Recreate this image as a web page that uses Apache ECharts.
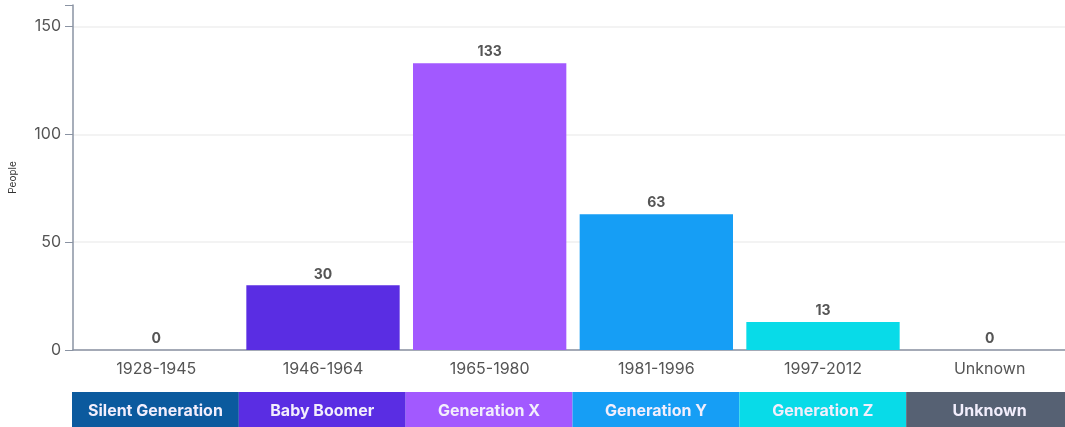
<!DOCTYPE html>
<html>
<head>
<meta charset="utf-8">
<script src="https://cdn.jsdelivr.net/npm/echarts@6/dist/echarts.min.js"></script>
<style>
  html, body { margin: 0; padding: 0; background: #fff; overflow: hidden; }
  #myChart { width: 1073px; height: 432px; }
</style>
</head>
<body>
<div id="myChart"></div>
<script>
// data
const years = ['1928-1945', '1946-1964', '1965-1980', '1981-1996', '1997-2012', 'Unknown'];
const generations = ['Silent Generation', 'Baby Boomer', 'Generation X', 'Generation Y', 'Generation Z', 'Unknown'];
const people = [0, 30, 133, 63, 13, 0];
const bandValues = [1, 1, 1, 1, 1, 1];
const barColors = ['#0b5a9e', '#5a2de3', '#a259ff', '#169ef5', '#08dbe8', '#566173'];

// the chart is a little bigger than the window, the right and bottom edges are cut off
let myChart = echarts.init(document.getElementById('myChart'));
myChart.setOption({
  animation: false,
  textStyle: { fontFamily: 'Inter, "Noto Sans", sans-serif' },
  grid: [
    { left: 72, top: 5, width: 1001, height: 345 },
    { left: 72, top: 392, width: 1001, height: 39 }
  ],
  xAxis: [{
    gridIndex: 0,
    type: 'category',
    data: years,
    axisLine: { lineStyle: { color: '#8a93a3', width: 1.5 } },
    axisTick: { alignWithLabel: true, length: 6, lineStyle: { color: '#8a93a3' } },
    axisLabel: { color: '#555', fontSize: 16, margin: 11 }
  }, {
    gridIndex: 1,
    type: 'category',
    data: generations,
    show: false
  }],
  yAxis: [{
    gridIndex: 0,
    type: 'value',
    min: 0,
    max: 160,
    interval: 50,
    name: 'People',
    nameLocation: 'middle',
    nameGap: 55,
    nameTextStyle: { fontSize: 10, color: '#333' },
    axisLine: { show: true, lineStyle: { color: '#8a93a3', width: 1.5 } },
    axisTick: { show: true, length: 8, lineStyle: { color: '#8a93a3' } },
    axisLabel: {
      color: '#555', fontSize: 16, margin: 12,
      formatter: function (v) { return v % 50 === 0 ? v : ''; }
    },
    splitLine: { lineStyle: { color: '#efefef', width: 1.5 }, showMaxLine: false }
  }, {
    gridIndex: 1,
    type: 'value',
    min: 0,
    max: 1,
    show: false
  }],
  series: [{
    type: 'bar',
    xAxisIndex: 0,
    yAxisIndex: 0,
    data: people.map((v, i) => ({ value: v, itemStyle: { color: barColors[i] } })),
    barCategoryGap: '8%',
    label: { show: true, position: 'top', color: '#555', fontSize: 14, fontWeight: 'bold', distance: 4 }
  }, {
    type: 'bar',
    xAxisIndex: 1,
    yAxisIndex: 1,
    data: bandValues.map((v, i) => ({ value: v, itemStyle: { color: barColors[i] } })),
    barCategoryGap: 0,
    silent: true,
    label: {
      show: true, position: 'inside', color: '#f2eefc', fontSize: 16, fontWeight: 'bold',
      formatter: function (p) { return generations[p.dataIndex]; }
    }
  }]
});
</script>
</body>
</html>
